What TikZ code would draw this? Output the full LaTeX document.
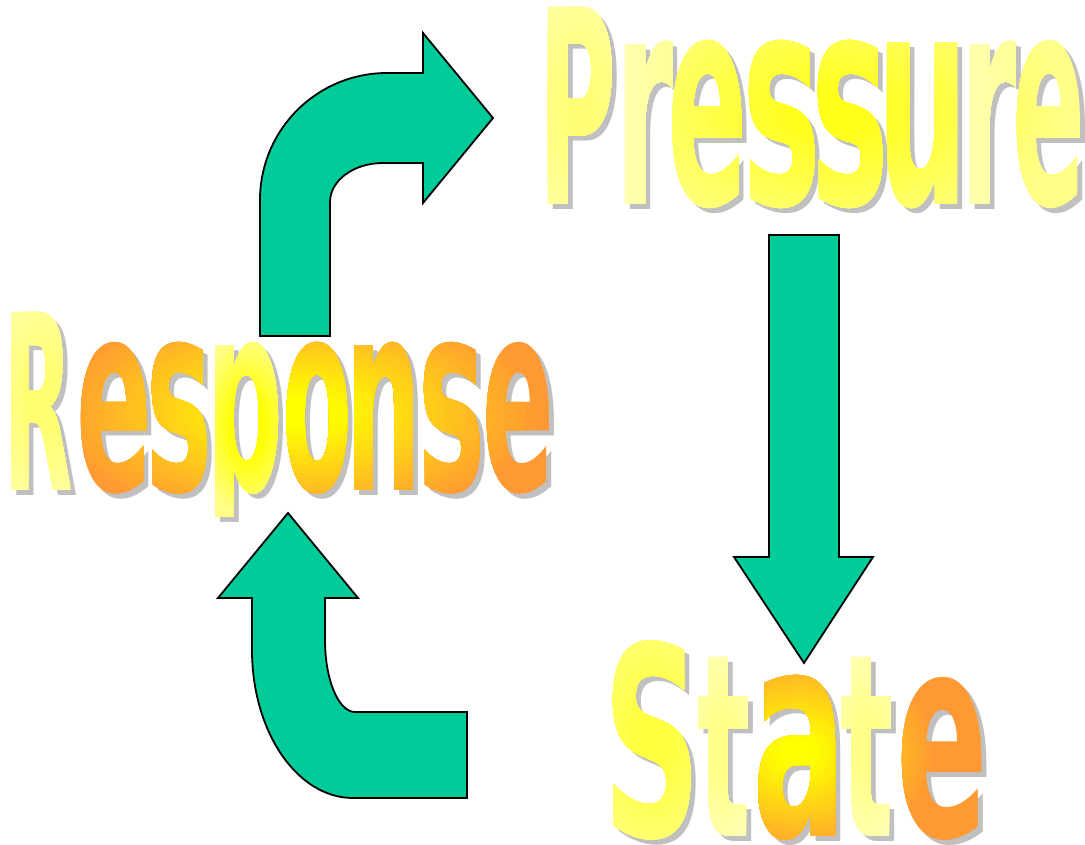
\documentclass[tikz,border=0pt]{standalone}
\usepackage{fontspec}
\usepackage{graphicx}

\IfFontExistsTF{DejaVu Sans Condensed}
  {\newfontfamily\glyphfont{DejaVu Sans Condensed}}
  {\newfontfamily\glyphfont{DejaVu Sans}}

% palette
\definecolor{arrowgreen}{HTML}{00CC99}
\definecolor{shadowgrey}{HTML}{C0C0C0}
\definecolor{paleA}{HTML}{FFFF77}
\definecolor{paleB}{HTML}{FFFF99}
\definecolor{paleC}{HTML}{FFFFB0}
\definecolor{paleD}{HTML}{FFFF88}
\definecolor{paleE}{HTML}{FFFF70}
\definecolor{yelB}{HTML}{FFFF18}
\definecolor{yelC}{HTML}{FFFF00}
\definecolor{yelE}{HTML}{FFFF40}
\definecolor{orD}{HTML}{FF9933}

\tikzset{
  arrowbody/.style={fill=arrowgreen, draw=black, line width=1.8pt, line join=miter},
  glyphtext/.style={anchor=text, inner sep=0pt, outer sep=0pt},
}

\def\glyphsteps{24}
\def\modeletter{r}
\def\modeword{g}

% centre and radii of a glow shared by several letters of one word
\newcommand\setglow[4]{\def\wcx{#1}\def\wcy{#2}\def\wrx{#3}\def\wry{#4}}

% A letter stretched to its ink box.
% \glyphdef{name}{char}{x}{baseline}{width}{height}{visible depth}{left bearing}{ink fraction}
\newcommand\glyphdef[9]{%
  \pgfmathsetmacro\glyphboxw{#5/#9}%
  \pgfmathsetmacro\glyphnodex{#3-#8*\glyphboxw}%
  \expandafter\xdef\csname glyphgeom@#1\endcsname
    {{#2}{\glyphnodex}{#4}{\glyphboxw}{#6}{#3}{#5}{#7}}}
\newcommand\glyphbox[3]{\resizebox{#1pt}{#2pt}{\glyphfont\bfseries #3}}

% grey drop shadow, offset 5 right and 5 down
\newcommand\glyphshadowdo[9]{%
  \begin{scope}
    \clip ({#6-30},{#3-#5-30}) rectangle ({#6+#7+40},{#3+#8+11});
    \node[glyphtext, text=shadowgrey] (#9-shadow) at ({#2+5},{#3+5})
      {\glyphbox{#4}{#5}{#1}};
  \end{scope}}

% colour-graded letter: the glyph is laid down again and again, each copy
% clipped to a smaller ellipse (glow) or a narrower strip (left to right)
\newcommand\glyphfacedo[9]{%
  \begin{scope}
    \clip ({#6-30},{#3-#5-30}) rectangle ({#6+#7+40},{#3+#8+6});
    \ifx\gmode\modeletter
      \pgfmathsetmacro\gcx{#6+#7/2}\pgfmathsetmacro\gcy{#3-(#5-#8)/2}%
      \pgfmathsetmacro\grx{0.75*#7}\pgfmathsetmacro\gry{(#5+#8)/2}%
      \def\grmax{1.2}\def\grmin{0.2}\def\grout{1.1}\def\grin{0.35}%
    \else
      \let\gcx\wcx\let\gcy\wcy\let\grx\wrx\let\gry\wry
      \def\grmax{1.0}\def\grmin{0.05}\def\grout{1.0}\def\grin{0.15}%
    \fi
    \foreach \k in {0,...,\glyphsteps} {
      \begin{scope}
        \ifx\gmode\modeletter\def\gshape{e}\else
          \ifx\gmode\modeword\def\gshape{e}\else\def\gshape{h}\fi\fi
        \if e\gshape
          \pgfmathsetmacro\grho{\grmax-(\grmax-\grmin)*\k/\glyphsteps}%
          \pgfmathtruncatemacro\gp{max(0,min(100,100*(\grout-\grho)/(\grout-\grin)))}%
          \ifnum\k>0
            \clip (\gcx,\gcy) ellipse [x radius={\grho*\grx}, y radius={\grho*\gry}];
          \fi
        \else
          \pgfmathtruncatemacro\gp{100-100*\k/\glyphsteps}%
          \clip ({#6+#7*(\k-0.5)/\glyphsteps-30*(\k==0)},{#3-#5-30})
            rectangle ({#6+#7+40},{#3+#8+6});
        \fi
        \node[glyphtext, text=\gin!\gp!\gout] (#9-\k) at (#2,#3)
          {\glyphbox{#4}{#5}{#1}};
      \end{scope}
    }
  \end{scope}}
\newcommand\glyphshadow[1]{%
  \expandafter\expandafter\expandafter\glyphshadowdo\csname glyphgeom@#1\endcsname{#1}}
% \glyphface{name}{r|g|h}{inner or left colour}{outer or right colour}
\newcommand\glyphface[4]{%
  \def\gmode{#2}\def\gin{#3}\def\gout{#4}%
  \expandafter\expandafter\expandafter\glyphfacedo\csname glyphgeom@#1\endcsname{#1}}

% Pressure
\glyphdef{prP}{P}{548}{205}{64}{197}{0}{0.12}{0.82}
\glyphdef{prr}{r}{622}{205}{46}{163}{0}{0.12}{0.80}
\glyphdef{pre}{e}{673}{205}{69}{164}{0}{0.07}{0.86}
\glyphdef{prs}{s}{748}{205}{67}{164}{0}{0.07}{0.85}
\glyphdef{prss}{s}{817}{205}{66}{164}{0}{0.07}{0.85}
\glyphdef{pru}{u}{888}{205}{69}{162}{0}{0.12}{0.76}
\glyphdef{prrr}{r}{967}{205}{45}{163}{0}{0.12}{0.80}
\glyphdef{pree}{e}{1018}{205}{63}{164}{0}{0.07}{0.86}
% Response
\glyphdef{reR}{R}{12}{490}{60}{178}{0}{0.12}{0.86}
\glyphdef{ree}{e}{82}{490}{65}{148}{0}{0.07}{0.86}
\glyphdef{res}{s}{151}{490}{56}{148}{0}{0.07}{0.85}
\glyphdef{rep}{p}{216}{490}{63}{148}{20}{0.12}{0.82}
\glyphdef{reo}{o}{287}{490}{60}{148}{0}{0.07}{0.86}
\glyphdef{ren}{n}{355}{490}{58}{148}{0}{0.12}{0.76}
\glyphdef{ress}{s}{423}{490}{57}{148}{0}{0.07}{0.85}
\glyphdef{reee}{e}{488}{490}{62}{148}{0}{0.07}{0.86}
% State
\glyphdef{stS}{S}{612}{836}{80}{196}{0}{0.09}{0.82}
\glyphdef{stt}{t}{700}{836}{47}{179}{0}{0.04}{0.88}
\glyphdef{sta}{a}{758}{836}{79}{161}{0}{0.06}{0.84}
\glyphdef{sttt}{t}{843}{836}{47}{179}{0}{0.04}{0.88}
\glyphdef{ste}{e}{903}{836}{79}{159}{0}{0.07}{0.86}

\begin{document}
\begin{tikzpicture}[x=1pt,y=-1pt]
  \useasboundingbox (0,0) rectangle (1085,845);

  % bent arrow: Response -> Pressure
  \draw[arrowbody] (260,336) -- (260,200)
    arc[start angle=180, end angle=270, x radius=127, y radius=127]
    -- (423,73) -- (423,33) -- (493,118) -- (423,203) -- (423,163) -- (383,163)
    arc[start angle=270, end angle=180, x radius=53, y radius=39]
    -- (330,336) -- cycle;

  % straight arrow: Pressure -> State
  \draw[arrowbody] (769,235) -- (839,235) -- (839,557) -- (873,557)
    -- (804,663) -- (734,557) -- (769,557) -- cycle;

  % bent arrow: State -> Response
  \draw[arrowbody] (288,513) -- (358,598) -- (325,598) -- (325,640)
    arc[start angle=180, end angle=90, x radius=30, y radius=72]
    -- (467,712) -- (467,798) -- (353,798)
    arc[start angle=90, end angle=180, x radius=101, y radius=148]
    -- (252,598) -- (218,598) -- cycle;

  % drop shadows of the lettering
  \foreach \g in {prP,prr,pre,prs,prss,pru,prrr,pree,
                  reR,ree,res,rep,reo,ren,ress,reee,
                  stS,stt,sta,sttt,ste} {\glyphshadow{\g}}

  % Pressure: pale yellow, brightest round the two s
  \setglow{832}{112}{240}{140}
  \glyphface{prP}{r}{paleA}{paleB}
  \glyphface{prr}{h}{paleC}{paleB}
  \glyphface{pre}{g}{yelB}{paleD}
  \glyphface{prs}{g}{yelB}{paleD}
  \glyphface{prss}{g}{yelB}{paleD}
  \glyphface{pru}{g}{yelB}{paleD}
  \glyphface{prrr}{h}{paleC}{paleB}
  \glyphface{pree}{g}{yelB}{paleD}

  % Response: yellow core turning orange towards the ends
  \setglow{295}{412}{250}{115}
  \glyphface{reR}{r}{paleE}{paleB}
  \glyphface{ree}{g}{yelC}{orD}
  \glyphface{res}{g}{yelC}{orD}
  \glyphface{rep}{r}{yelC}{paleD}
  \glyphface{reo}{g}{yelC}{orD}
  \glyphface{ren}{g}{yelC}{orD}
  \glyphface{ress}{g}{yelC}{orD}
  \glyphface{reee}{g}{yelC}{orD}

  % State
  \setglow{797}{752}{140}{110}
  \glyphface{stS}{r}{yelE}{paleE}
  \glyphface{stt}{r}{paleD}{paleC}
  \glyphface{sta}{g}{yelC}{orD}
  \glyphface{sttt}{r}{paleD}{paleC}
  \glyphface{ste}{g}{yelC}{orD}
\end{tikzpicture}
\end{document}
